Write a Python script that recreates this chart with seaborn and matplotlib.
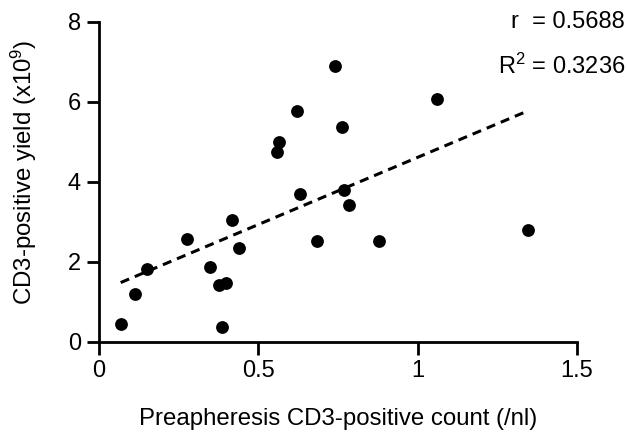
import matplotlib
matplotlib.use("Agg")
import matplotlib.pyplot as plt
import seaborn as sns
import pandas as pd

# values
preapheresis_count = [0.741, 0.620, 0.566, 0.559, 0.762, 0.631, 0.770, 0.786,
                      0.418, 0.439, 0.275, 0.685, 0.348, 0.150, 0.377, 0.398,
                      0.113, 0.068, 0.387, 0.880, 1.346, 1.062]
cd3_yield = [6.90, 5.78, 5.01, 4.74, 5.38, 3.70, 3.80, 3.43,
             3.05, 2.36, 2.57, 2.52, 1.87, 1.83, 1.43, 1.47,
             1.20, 0.44, 0.38, 2.52, 2.80, 6.07]
x_ticks = [0, 0.5, 1, 1.5]
x_tick_labels = ["0", "0.5", "1", "1.5"]
y_ticks = [0, 2, 4, 6, 8]
r_text = "r  = 0.5688"
r2_text = "R$^{2}$ = 0.3236"

df = pd.DataFrame({"count": preapheresis_count, "yield": cd3_yield})

sns.set_style("ticks")
plt.rcParams["font.family"] = ["Liberation Sans", "DejaVu Sans"]
plt.rcParams["mathtext.fontset"] = "custom"
plt.rcParams["mathtext.rm"] = "Liberation Sans"
plt.rcParams["mathtext.it"] = "Liberation Sans:italic"
for key in ["text.color", "axes.labelcolor", "xtick.color", "ytick.color"]:
    plt.rcParams[key] = "black"

fig = plt.figure(figsize=(6.27, 4.32), dpi=100)
ax = fig.add_axes([99 / 627, 1 - 342 / 432, (577 - 99) / 627, (342 - 22) / 432])

sns.regplot(data=df, x="count", y="yield", ax=ax, ci=None, color="black",
            scatter_kws={"s": 85, "linewidths": 0, "alpha": 1, "clip_on": False},
            line_kws={"linestyle": (0, (3, 2)), "linewidth": 2.2})

ax.set_xlim(0, 1.5)
ax.set_ylim(0, 8)
ax.set_xticks(x_ticks)
ax.set_xticklabels(x_tick_labels)
ax.set_yticks(y_ticks)
ax.tick_params(axis="both", length=9, width=2, labelsize=17, pad=4, color="black")
for side in ["left", "bottom"]:
    ax.spines[side].set_linewidth(2)
    ax.spines[side].set_color("black")
sns.despine(ax=ax)

ax.set_xlabel("Preapheresis CD3-positive count (/nl)", fontsize=17.3)
ax.set_ylabel("CD3-positive yield (x10$^{9}$)", fontsize=17.3)
ax.xaxis.set_label_coords(0.5, -(419 - 342) / 320, transform=ax.transAxes)
ax.xaxis.label.set_va("center")
ax.yaxis.set_label_coords(-(99 - 24) / 478, (342 - 172) / 320, transform=ax.transAxes)
ax.yaxis.label.set_va("center")

fig.text(625 / 627, 1 - 22.5 / 432, r_text, ha="right", va="center", fontsize=17)
fig.text(625 / 627, 1 - 66 / 432, r2_text, ha="right", va="center", fontsize=17)

fig.savefig("out.png", dpi=100)
